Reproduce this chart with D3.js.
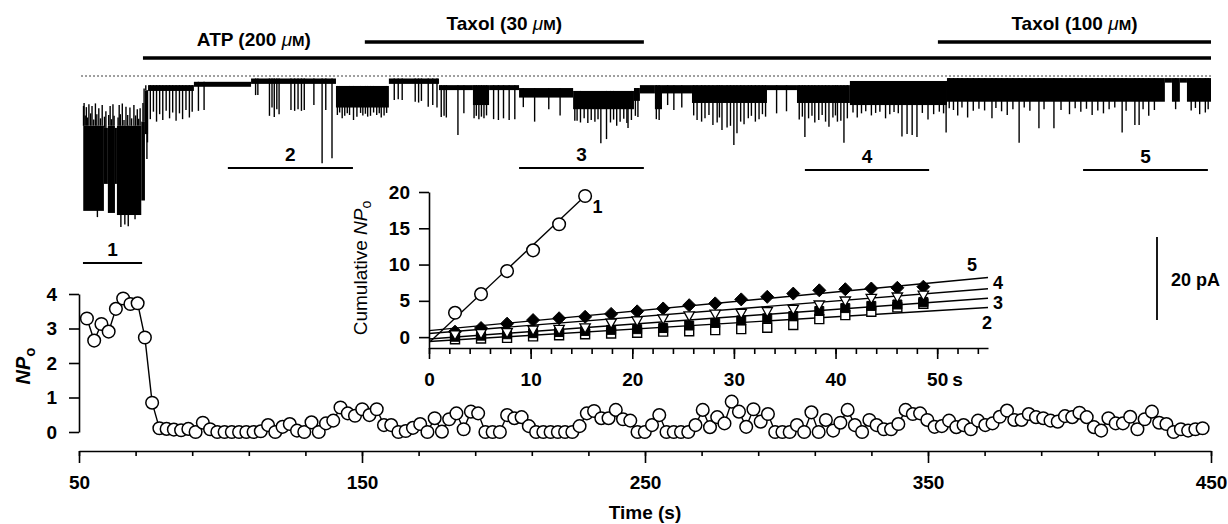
<!DOCTYPE html>
<html>
<head>
<meta charset="utf-8">
<script src="https://cdn.jsdelivr.net/npm/d3@7"></script>
<style>
  body { margin: 0; background: #fff; }
</style>
</head>
<body>
<svg id="chart" width="1228" height="524"></svg>
<script>
// NPo per 2.56 s bin, first bin centred at 52.8 s
const binStart = 52.8
const binWidth = 2.56
const npo = [
  3.29, 2.65, 3.13, 2.91, 3.57, 3.87, 3.71, 3.73, 2.74, 0.85,
  0.11, 0.09, 0.07, 0.05, 0.09, 0.0, 0.27, 0.08, 0.0, 0.0,
  0.0, 0.0, 0.0, 0.0, 0.02, 0.2, 0.0, 0.15, 0.23, 0.04,
  0.0, 0.28, 0.0, 0.25, 0.33, 0.71, 0.54, 0.47, 0.66, 0.49,
  0.66, 0.2, 0.2, 0.0, 0.03, 0.12, 0.23, 0.0, 0.4, 0.01,
  0.37, 0.54, 0.08, 0.59, 0.54, 0.0, 0.0, 0.0, 0.49, 0.4,
  0.43, 0.17, 0.0, 0.0, 0.0, 0.0, 0.0, 0.0, 0.17, 0.54,
  0.61, 0.4, 0.4, 0.64, 0.37, 0.33, 0.0, 0.0, 0.2, 0.49,
  0.0, 0.0, 0.0, 0.0, 0.2, 0.64, 0.14, 0.43, 0.25, 0.88,
  0.59, 0.15, 0.66, 0.3, 0.52, 0.0, 0.0, 0.0, 0.2, 0.0,
  0.57, 0.0, 0.35, 0.04, 0.27, 0.64, 0.2, 0.0, 0.35, 0.2,
  0.08, 0.08, 0.23, 0.64, 0.52, 0.54, 0.35, 0.15, 0.17, 0.33,
  0.14, 0.2, 0.08, 0.33, 0.2, 0.25, 0.44, 0.62, 0.35, 0.35,
  0.52, 0.43, 0.4, 0.33, 0.3, 0.46, 0.43, 0.56, 0.43, 0.14,
  0.04, 0.4, 0.25, 0.25, 0.44, 0.08, 0.37, 0.59, 0.27, 0.23,
  0.0, 0.08, 0.04, 0.08, 0.11
]

// inset: cumulative NPo, one point per bin (k = 1, 2, ...)
const cum1 = [3.35, 5.93, 9.1, 11.96, 15.55, 19.45]
const cum2 = [-0.3, -0.2, -0.1, 0.1, 0.25, 0.4, 0.5, 0.6, 0.75, 0.8, 0.97, 1.1, 1.3, 1.66, 2.48, 3.03, 3.49, 4.1, 4.6]
const cum3 = [0.05, 0.2, 0.4, 0.55, 0.7, 0.85, 1.0, 1.1, 1.25, 1.6, 1.95, 2.3, 2.6, 2.9, 3.6, 4.0, 4.3, 4.5, 4.85]
const cum4 = [0.3, 0.45, 0.6, 0.95, 1.05, 1.25, 1.9, 2.2, 2.5, 2.9, 3.15, 3.25, 3.5, 3.8, 4.4, 4.95, 5.3, 5.5, 5.75]
const cum5 = [0.75, 1.25, 1.85, 2.35, 2.6, 2.8, 3.2, 3.55, 3.95, 4.4, 4.65, 5.2, 5.55, 6.0, 6.45, 6.6, 6.7, 6.8, 6.95]

// fitted lines
const fitLabels = ['1', '2', '3', '4', '5']
const fitIntercept = [-0.78, -0.6, -0.25, 0.5, 0.9]
const fitSlope = [1.317, 0.085, 0.102, 0.112, 0.133]
const fitStart = [0.1, 0, 0, 0, 0]
const fitEnd = [15.4, 55, 55, 55, 55]

// current trace: dense bands [start (s), top (pA), bottom (pA)]
const bandStart = [51.5, 58.8, 60.2, 62.7, 63.4, 72.0, 73.3, 74.4, 90.6, 110.8, 140.8, 159.5, 177.2, 189.2, 194.9,
  205.5, 224.6, 246.1, 248.2, 253.5, 256.0, 266.6, 293.1, 303.7, 322.4, 356.7, 433.7, 436.2, 439.0, 441.5]
const bandTop = [-12, -12.5, -12, -12.5, -12, -11, -3.5, -2.2, -1.4, -0.6, -2.4, -0.6, -2.2, -2.2, -2.2,
  -2.9, -3.6, -2.9, -2.2, -2.2, -2.2, -2.2, -2.2, -2.2, -1.2, -0.5, -0.5, -0.5, -0.5, -0.5]
const bandBottom = [-32.5, -26, -33, -26, -33.5, -30, -14, -3.6, -2.6, -1.9, -7.6, -1.9, -3.4, -7.0, -3.4,
  -5.2, -8.0, -6.0, -4.2, -8.0, -4.2, -6.5, -3.4, -6.5, -7.0, -6.2, -1.6, -6.2, -1.6, -6.2]
const traceEnd = 450

// single openings / excursions [time (s), current (pA)]
const traceSpikes = [
  [51.6, -7.2], [51.8, -6.5], [52.2, -9.5], [52.6, -7.5], [53.0, -10], [53.5, -6.8], [54.1, -9], [54.6, -7.2],
  [55.2, -10.5], [55.8, -6.6], [56.3, -9.2], [57.0, -7.8], [57.6, -10.2], [58.2, -7], [59.0, -9.8], [59.5, -8.5],
  [60.5, -9.4], [61.0, -7.2], [61.5, -10.4], [62.0, -6.8], [62.4, -9.6], [63.8, -10], [64.2, -7], [64.6, -9.2],
  [65.3, -6.6], [65.9, -10.6], [66.6, -7.4], [67.2, -9.4], [68.0, -7.6], [68.6, -10.2], [69.4, -7.0], [70.0, -9.5],
  [70.6, -8], [71.1, -10.3], [71.6, -7.8], [72.6, -6.5],
  [64.8, -36.4], [66.2, -35.8], [67.4, -36.2], [56.5, -34], [69.8, -34.5],
  [73.0, -3.0], [73.6, -2.2], [74.0, -20], [74.2, -16],
  [75.2, -10.4], [76.3, -8.6], [77.4, -11], [78.5, -9.2], [79.6, -10.6], [80.8, -8.4], [82.0, -10.2],
  [83.1, -8.8], [84.3, -10.8], [85.5, -9.0], [86.6, -10.4], [87.8, -8.2], [89.0, -10], [90.0, -8.6],
  [92.2, -8.4], [94.2, -8.2], [112.4, -4.6], [113.2, -4.6],
  [117.3, -9.6], [118.2, -7.6], [119.0, -9.9], [119.9, -8.0], [120.7, -9.2],
  [124.9, -8.2], [126.2, -8.4], [127.4, -8.0], [128.6, -8.4], [129.6, -8.2],
  [133.0, -7.0], [135.9, -21.0], [137.2, -8.2], [139.4, -19.8],
  [141.3, -9.4], [142.1, -8.8], [143.0, -10.2], [143.9, -9.6], [144.8, -9.0], [145.6, -9.4], [147.0, -10.6],
  [148.2, -9.8], [149.5, -8.9], [150.3, -9.5], [151.2, -9.1], [152.0, -9.8], [153.0, -9.6], [154.1, -8.8],
  [155.2, -9.4], [156.1, -9.0], [156.8, -10.0], [157.8, -9.5], [158.7, -8.9],
  [161.4, -5.8], [162.8, -5.6], [164.2, -5.8], [168.8, -6.2], [170.0, -6.4], [171.0, -6.0],
  [173.4, -7.4], [175.0, -7.0], [176.5, -7.6], [178.0, -9.9], [179.0, -9.6], [179.8, -10.0],
  [183.9, -14.2], [186.0, -9.0],
  [189.6, -10.2], [190.4, -9.6], [191.3, -10.4], [192.2, -9.8], [193.1, -10.2], [194.0, -9.5],
  [196.5, -10.4], [198.2, -10.6], [200.0, -10.2], [202.0, -10.6], [204.0, -10.4],
  [207.0, -7.5], [211.0, -11.0], [216.0, -8.0], [220.0, -9.5],
  [225.2, -10.8], [226.0, -10.8], [227.2, -11.2], [228.5, -10.2], [229.8, -11.3], [231.0, -10.6], [232.3, -11.0],
  [233.4, -10.4], [234.4, -16.2], [236.4, -15.2], [237.8, -11.2], [238.9, -10.5], [240, -12], [241.2, -11.0],
  [242.5, -10.3], [243.6, -11.3], [244, -12.5], [245.2, -10.6], [246.6, -9.6], [247.5, -9.9],
  [254.0, -10.4], [255.0, -10.6], [258.0, -7.0], [260.2, -8.2], [263.0, -7.6],
  [267.2, -9.5], [268.4, -10.6], [270.0, -11.0], [271.2, -10.2], [272.6, -9.4], [274.0, -11.8], [275.5, -11.2],
  [276.3, -10], [277.2, -13.0], [279.0, -12.4], [280.2, -12], [281.4, -16.6], [282.5, -13.8], [283.8, -11],
  [285.0, -11.6], [286.5, -10.2], [287.6, -9.6], [289, -11], [290.3, -10.4], [291.5, -9.2], [292.6, -9.8],
  [296.5, -9], [300, -8.5],
  [304.5, -10.5], [305.6, -9.8], [306.5, -14.7], [307.8, -10.2], [309, -9.6], [310.0, -11.2], [311.4, -10.6],
  [312.6, -9.4], [313.8, -11], [315.0, -12.2], [316.4, -10], [317.3, -9.5], [318, -11], [319.2, -10.8],
  [320.3, -16.1], [321.5, -10.2],
  [323.5, -8.8], [325, -10], [326.5, -9.0], [328, -8.5], [330, -9.5], [331.5, -8.9], [333, -8.6], [335, -10.2],
  [336.5, -9.2], [338, -8.7], [339.5, -9.0], [340.8, -14.6], [342.6, -14.0], [344.4, -14.2], [346.1, -14.7],
  [348, -8.9], [350, -10.5], [352, -9.2], [354, -8.6], [355.5, -9.0], [356.4, -13.6],
  [357.5, -7.8], [359, -8.2], [360.5, -9.5], [362, -7.6], [364, -10], [366, -8.4], [368, -7.9], [370, -8.3],
  [372.6, -10.2], [374, -7.7], [376, -8.5], [378, -9.4], [380, -8.0], [382.2, -16.1], [384, -7.6], [386, -8.4],
  [389.2, -12.6], [391, -8.0], [394.5, -12.6], [397, -8.2], [400, -9.2], [402, -7.8], [404, -8.6], [406, -7.9],
  [408, -9.4], [410, -8.3], [412, -9], [414, -8.0], [416, -7.6], [418.6, -13.6], [420, -8.4], [423.1, -11.8],
  [424.6, -11.8], [426, -8.0], [428, -9.6], [430, -8.2], [437.5, -8.0], [443, -8.3], [444.5, -7.7],
  [446, -9.2], [448, -8.8], [449, -8.0]
]

// drug applications
const drugNames = ['ATP', 'Taxol', 'Taxol']
const drugConc = ['200', '30', '100']
const drugStart = [72.6, 151, 353.5]
const drugEnd = [450, 249.6, 450]

// analysis segments
const segLabels = ['1', '2', '3', '4', '5']
const segStart = [51.4, 102.6, 205.5, 306.5, 404.8]
const segEnd = [72.3, 146.8, 249.6, 350.4, 448.9]

// layout
const FONT = '"Liberation Sans", Arial, Helvetica, sans-serif'
const drugRowY = [58, 42, 42]
const segLineY = [263, 168, 168, 170, 170]
const fitLabelDx = [12, -1, 10, 10, -16]
const fitLabelDy = [11, 15, 4, -6, -13]

const svg = d3.select('#chart')
  .attr('font-family', FONT)

const x = d3.scaleLinear().domain([50, 450]).range([79, 1211])
const y = d3.scaleLinear().domain([0, 4]).range([432, 294])
const yTrace = d3.scaleLinear().domain([0, -20]).range([76, 159])
const xi = d3.scaleLinear().domain([0, 55]).range([429, 988])
const yi = d3.scaleLinear().domain([-1.5, 20]).range([348, 192])

function styleAxis(g) {
  g.attr('font-family', FONT).attr('font-size', 19).attr('font-weight', 'bold')
  g.selectAll('path, line').attr('stroke', '#000').attr('stroke-width', 1.6)
  g.selectAll('text').attr('fill', '#000')
}

// ---------- trace ----------
const bands = bandStart.map((t, i) => ({
  t0: t,
  t1: i < bandStart.length - 1 ? bandStart[i + 1] : traceEnd,
  top: bandTop[i],
  bot: bandBottom[i]
}))
const topAt = t => (bands.find(b => t >= b.t0 && t < b.t1) || bands[bands.length - 1]).top

svg.append('line')
  .attr('x1', x(50.8)).attr('x2', x(450))
  .attr('y1', yTrace(0)).attr('y2', yTrace(0))
  .attr('stroke', '#000').attr('stroke-width', 1.1)
  .attr('stroke-dasharray', '1.5,2.5')

svg.append('g')
  .selectAll('rect')
  .data(bands)
  .enter()
  .append('rect')
  .attr('x', d => x(d.t0))
  .attr('width', d => x(d.t1) - x(d.t0))
  .attr('y', d => yTrace(d.top))
  .attr('height', d => yTrace(d.bot) - yTrace(d.top))
  .attr('fill', '#000')

svg.append('g')
  .selectAll('line')
  .data(traceSpikes)
  .enter()
  .append('line')
  .attr('x1', d => x(d[0])).attr('x2', d => x(d[0]))
  .attr('y1', d => yTrace(topAt(d[0])))
  .attr('y2', d => yTrace(d[1]))
  .attr('stroke', '#000').attr('stroke-width', 1.4)

// drug bars
const drugs = drugNames.map((n, i) => ({ name: n, conc: drugConc[i], t0: drugStart[i], t1: drugEnd[i], row: drugRowY[i] }))
drugs.forEach(d => {
  const later = drugs.filter(o => o.t0 > d.t0).map(o => o.t0)
  d.labelEnd = Math.min(d.t1, ...later)
})

svg.append('g')
  .selectAll('line')
  .data(drugs)
  .enter()
  .append('line')
  .attr('x1', d => x(d.t0)).attr('x2', d => x(d.t1))
  .attr('y1', d => d.row).attr('y2', d => d.row)
  .attr('stroke', '#000').attr('stroke-width', 3.5)

const drugText = svg.append('g')
  .selectAll('text')
  .data(drugs)
  .enter()
  .append('text')
  .attr('x', d => (x(d.t0) + x(d.labelEnd)) / 2)
  .attr('y', d => d.row - 12)
  .attr('text-anchor', 'middle')
  .attr('font-size', 19)
  .attr('font-weight', 'bold')
drugText.append('tspan').text(d => d.name + ' (' + d.conc + ' ')
drugText.append('tspan').attr('font-style', 'italic').attr('font-weight', 'normal').text('\u03bc')
drugText.append('tspan').attr('font-size', 15).text('M')
drugText.append('tspan').text(')')

// segment markers
const segs = segLabels.map((s, i) => ({ label: s, t0: segStart[i], t1: segEnd[i], ly: segLineY[i] }))
svg.append('g')
  .selectAll('line')
  .data(segs)
  .enter()
  .append('line')
  .attr('x1', d => x(d.t0)).attr('x2', d => x(d.t1))
  .attr('y1', d => d.ly).attr('y2', d => d.ly)
  .attr('stroke', '#000').attr('stroke-width', 2)
svg.append('g')
  .selectAll('text')
  .data(segs)
  .enter()
  .append('text')
  .attr('x', d => (x(d.t0) + x(d.t1)) / 2)
  .attr('y', d => d.ly - 7)
  .attr('text-anchor', 'middle')
  .attr('font-size', 19).attr('font-weight', 'bold')
  .text(d => d.label)

// scale bar 20 pA
const barX = 1157, barTop = 237
svg.append('line')
  .attr('x1', barX).attr('x2', barX)
  .attr('y1', barTop).attr('y2', barTop + yTrace(-20) - yTrace(0))
  .attr('stroke', '#000').attr('stroke-width', 1.8)
svg.append('text')
  .attr('x', barX + 14).attr('y', barTop + (yTrace(-20) - yTrace(0)) / 2 + 7)
  .attr('font-size', 18).attr('font-weight', 'bold')
  .text('20 pA')

// ---------- NPo plot ----------
const npoData = npo.map((v, i) => ({ t: binStart + i * binWidth, v }))

svg.append('path')
  .datum(npoData)
  .attr('fill', 'none').attr('stroke', '#000').attr('stroke-width', 1.4)
  .attr('d', d3.line().x(d => x(d.t)).y(d => y(d.v)))

svg.append('g')
  .selectAll('circle')
  .data(npoData)
  .enter()
  .append('circle')
  .attr('cx', d => x(d.t)).attr('cy', d => y(d.v)).attr('r', 6.3)
  .attr('fill', '#fff').attr('stroke', '#000').attr('stroke-width', 1.5)

svg.append('g')
  .attr('transform', 'translate(0,451)')
  .call(d3.axisBottom(x).tickValues(d3.range(50, 451, 20)).tickSize(5).tickSizeOuter(0).tickFormat(''))
  .call(styleAxis)
svg.append('g')
  .attr('transform', 'translate(0,451)')
  .call(d3.axisBottom(x).tickValues([50, 150, 250, 350, 450]).tickSize(12).tickSizeOuter(0).tickPadding(13).tickFormat(d3.format('d')))
  .call(styleAxis)
  .call(g => g.select('.domain').remove())

svg.append('g')
  .attr('transform', 'translate(79,0)')
  .call(d3.axisLeft(y).tickValues([0, 1, 2, 3, 4]).tickSize(10).tickSizeOuter(0).tickPadding(12).tickFormat(d3.format('d')))
  .call(styleAxis)

svg.append('text')
  .attr('x', x(250)).attr('y', 519)
  .attr('text-anchor', 'middle')
  .attr('font-size', 19).attr('font-weight', 'bold')
  .text('Time (s)')

const npoLabel = svg.append('text')
  .attr('transform', 'translate(30,366) rotate(-90)')
  .attr('text-anchor', 'middle')
  .attr('font-size', 20).attr('font-weight', 'bold')
npoLabel.append('tspan').attr('font-style', 'italic').text('NP')
npoLabel.append('tspan').attr('dy', '0.3em').attr('font-size', 15).text('o')

// ---------- inset ----------
const tOf = k => k * binWidth
const fits = fitLabels.map((l, i) => ({ label: l, a: fitIntercept[i], b: fitSlope[i], t0: fitStart[i], t1: fitEnd[i] }))

svg.append('g')
  .selectAll('line')
  .data(fits)
  .enter()
  .append('line')
  .attr('x1', d => xi(d.t0)).attr('y1', d => yi(d.a + d.b * d.t0))
  .attr('x2', d => xi(d.t1)).attr('y2', d => yi(d.a + d.b * d.t1))
  .attr('stroke', '#000').attr('stroke-width', 1.4)

svg.append('g')
  .selectAll('text')
  .data(fits)
  .enter()
  .append('text')
  .attr('x', d => xi(d.t1) + fitLabelDx[+d.label - 1])
  .attr('y', d => yi(d.a + d.b * d.t1) + fitLabelDy[+d.label - 1])
  .attr('dy', '0.35em')
  .attr('text-anchor', 'middle')
  .attr('font-size', 18).attr('font-weight', 'bold')
  .text(d => d.label)

const pts = arr => arr.map((v, i) => ({ t: tOf(i + 1), v }))
const drawMarks = (arr, path, fill, sw) => svg.append('g')
  .selectAll('path')
  .data(pts(arr))
  .enter()
  .append('path')
  .attr('transform', d => `translate(${xi(d.t)},${yi(d.v)})`)
  .attr('d', path)
  .attr('fill', fill).attr('stroke', '#000').attr('stroke-width', sw)

const squarePath = 'M-4.5,-4.5H4.5V4.5H-4.5Z'
const diamondPath = 'M0,-6.5L6.5,0L0,6.5L-6.5,0Z'
const trianglePath = 'M-5.2,-4.2L5.2,-4.2L0,5Z'

drawMarks(cum2, squarePath, '#fff', 1.4)
drawMarks(cum3, squarePath, '#000', 1)
drawMarks(cum5, diamondPath, '#000', 1)
drawMarks(cum4, trianglePath, '#fff', 1.3)

svg.append('g')
  .selectAll('circle')
  .data(pts(cum1))
  .enter()
  .append('circle')
  .attr('cx', d => xi(d.t)).attr('cy', d => yi(d.v)).attr('r', 6.3)
  .attr('fill', '#fff').attr('stroke', '#000').attr('stroke-width', 1.5)

svg.append('g')
  .attr('transform', 'translate(0,348)')
  .call(d3.axisBottom(xi).tickValues(d3.range(0, 55, 2)).tickSize(6).tickSizeOuter(0).tickFormat(''))
  .call(styleAxis)
svg.append('g')
  .attr('transform', 'translate(0,348)')
  .call(d3.axisBottom(xi).tickValues([0, 10, 20, 30, 40, 50]).tickSize(11).tickSizeOuter(0).tickPadding(14).tickFormat(d3.format('d')))
  .call(styleAxis)
  .call(g => g.select('.domain').remove())

svg.append('text')
  .attr('x', xi(50) + 15).attr('y', 348 + 11 + 14)
  .attr('dy', '0.71em')
  .attr('font-size', 19).attr('font-weight', 'bold')
  .text('s')

svg.append('g')
  .attr('transform', 'translate(429,0)')
  .call(d3.axisLeft(yi).tickValues([0, 5, 10, 15, 20]).tickSize(10).tickSizeOuter(0).tickPadding(9))
  .call(styleAxis)

const cumLabel = svg.append('text')
  .attr('transform', 'translate(367,268) rotate(-90)')
  .attr('text-anchor', 'middle')
  .attr('font-size', 19)
cumLabel.append('tspan').text('Cumulative ')
cumLabel.append('tspan').attr('font-style', 'italic').text('NP')
cumLabel.append('tspan').attr('dy', '0.3em').attr('font-size', 14).text('o')
</script>
</body>
</html>
